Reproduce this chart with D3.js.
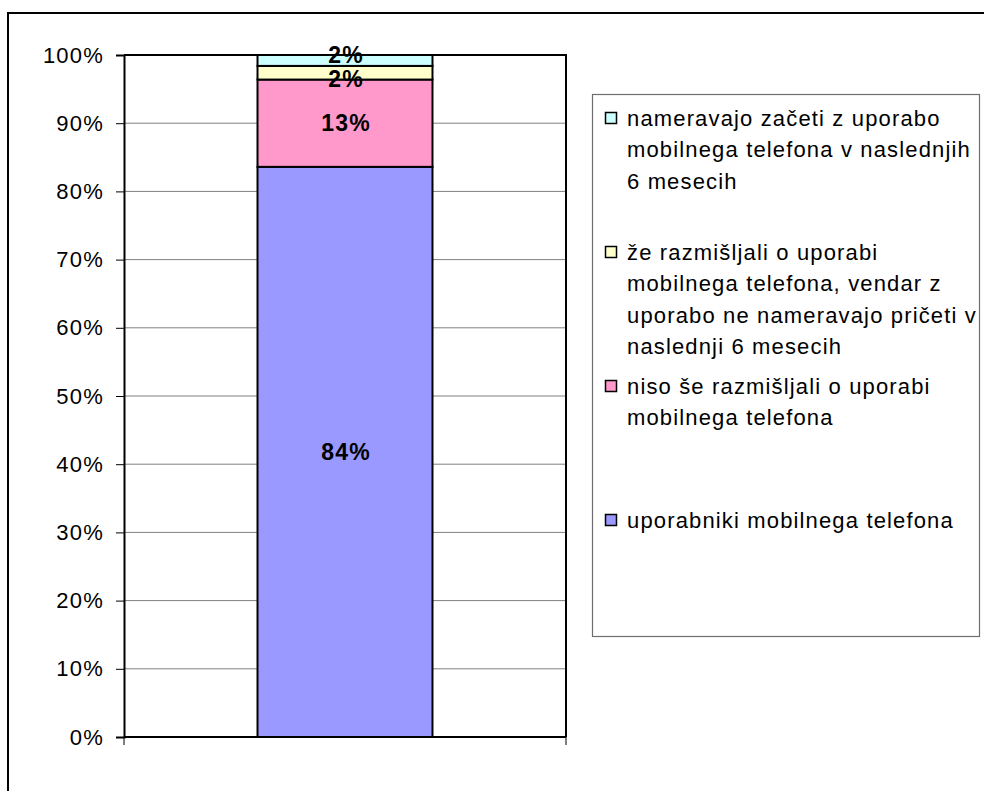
<!DOCTYPE html>
<html>
<head>
<meta charset="utf-8">
<script src="https://cdn.jsdelivr.net/npm/d3@7/dist/d3.min.js"></script>
<style>
  html, body { margin: 0; padding: 0; background: #fff; }
  svg { display: block; font-family: "Liberation Sans", Arial, sans-serif; }
</style>
</head>
<body>
<svg id="chart" width="984" height="791"></svg>
<script>
// Stacked segments, bottom to top
const seriesKeys = ["uporabniki", "niso", "ze", "nameravajo"];
const seriesValues = [83.6, 12.8, 2.0, 1.6];
const seriesColors = ["#9999FF", "#FF99CC", "#FFFFCC", "#CCFFFF"];
const category = ["Skupaj"];

// Legend entries, top to bottom, already broken into lines
const legendKeys = ["nameravajo", "ze", "niso", "uporabniki"];
const legendLines = [
  ["nameravajo začeti z uporabo", "mobilnega telefona v naslednjih", "6 mesecih"],
  ["že razmišljali o uporabi", "mobilnega telefona, vendar z", "uporabo ne nameravajo pričeti v", "naslednji 6 mesecih"],
  ["niso še razmišljali o uporabi", "mobilnega telefona"],
  ["uporabniki mobilnega telefona"]
];

const yTicks = [0, 10, 20, 30, 40, 50, 60, 70, 80, 90, 100];

const svg = d3.select("#chart");

// outer frame
svg.append("rect")
  .attr("x", 8).attr("y", 13).attr("width", 1000).attr("height", 800)
  .attr("fill", "none").attr("stroke", "#000").attr("stroke-width", 2);

const plot = { left: 124, right: 566, top: 55, bottom: 737 };

const y = d3.scaleLinear().domain([0, 100]).range([plot.bottom, plot.top]);
const x = d3.scaleBand().domain(category).range([plot.left, plot.right])
  .paddingInner(0).paddingOuter(0.763);

// gridlines
svg.append("g").selectAll("line").data(yTicks.filter(t => t > 0 && t < 100)).join("line")
  .attr("x1", plot.left).attr("x2", plot.right)
  .attr("y1", d => y(d)).attr("y2", d => y(d))
  .attr("stroke", "#808080").attr("stroke-width", 1);

// stacked bar
const rows = [Object.fromEntries(seriesKeys.map((k, i) => [k, seriesValues[i]]))];
rows[0].cat = category[0];
const stack = d3.stack().keys(seriesKeys)(rows);
const color = d3.scaleOrdinal().domain(seriesKeys).range(seriesColors);

svg.append("g").selectAll("rect").data(stack).join("rect")
  .attr("x", x(category[0]))
  .attr("width", x.bandwidth())
  .attr("y", d => y(d[0][1]))
  .attr("height", d => y(d[0][0]) - y(d[0][1]))
  .attr("fill", d => color(d.key))
  .attr("stroke", "#000").attr("stroke-width", 2);

// plot frame (top, right)
svg.append("path")
  .attr("d", `M${plot.left},${plot.top}H${plot.right}V${plot.bottom}`)
  .attr("fill", "none").attr("stroke", "#000").attr("stroke-width", 2);

// y axis
const yAxis = svg.append("g").attr("transform", `translate(${plot.left},0)`)
  .call(d3.axisLeft(y).tickValues(yTicks).tickSize(8).tickPadding(12)
    .tickFormat(d => d + "%"));
yAxis.select(".domain").attr("stroke", "#000").attr("stroke-width", 2);
yAxis.selectAll(".tick line").attr("stroke", "#000").attr("stroke-width", 1);
yAxis.selectAll(".tick text")
  .attr("font-size", 22).attr("fill", "#000")
  .style("letter-spacing", "1.2px")
  .attr("font-family", "'Liberation Sans', Arial, sans-serif");

// x axis (no labels, ticks at band edges)
const xAxisG = svg.append("g").attr("transform", `translate(0,${plot.bottom})`);
xAxisG.append("line").attr("x1", plot.left).attr("x2", plot.right)
  .attr("stroke", "#000").attr("stroke-width", 2);
xAxisG.selectAll("line.tk").data([plot.left, plot.right]).join("line")
  .attr("class", "tk")
  .attr("x1", d => d).attr("x2", d => d).attr("y1", 0).attr("y2", 8)
  .attr("stroke", "#000").attr("stroke-width", 1);

// data labels, centred in segments, nudged apart when crowded
const labels = stack.map(s => ({
  key: s.key,
  v: s[0][1] - s[0][0],
  cy: (y(s[0][0]) + y(s[0][1])) / 2
}));
const minGap = 24;
for (let iter = 0; iter < 5; iter++) {
  for (let i = 1; i < labels.length; i++) {
    const lo = labels[i - 1], hi = labels[i];
    const gap = lo.cy - hi.cy;
    if (gap < minGap) {
      const mid = (lo.cy + hi.cy) / 2;
      lo.cy = mid + minGap / 2;
      hi.cy = mid - minGap / 2;
    }
  }
}
svg.append("g").selectAll("text").data(labels).join("text")
  .attr("x", x(category[0]) + x.bandwidth() / 2 + 1)
  .attr("y", d => d.cy)
  .attr("dy", "0.35em")
  .attr("text-anchor", "middle")
  .attr("font-size", 23).attr("font-weight", "bold")
  .style("letter-spacing", "1.2px")
  .text(d => Math.round(d.v) + "%");

// legend
const legend = svg.append("g");
legend.append("rect")
  .attr("x", 592.5).attr("y", 94.5).attr("width", 387).attr("height", 542)
  .attr("fill", "#fff").attr("stroke", "#6e6e6e").attr("stroke-width", 1.2);

const slot = 134;
const lineH = 31.5;
legendKeys.forEach((k, i) => {
  const top = 118 + i * slot;
  legend.append("rect")
    .attr("x", 605.5).attr("y", top - 5.5).attr("width", 11).attr("height", 11)
    .attr("fill", color(k)).attr("stroke", "#000").attr("stroke-width", 1.5);
  const t = legend.append("text")
    .attr("x", 627).attr("y", top)
    .attr("font-size", 22)
    .style("letter-spacing", "1.15px");
  legendLines[i].forEach((ln, j) => {
    t.append("tspan").attr("x", 627).attr("y", top + j * lineH).attr("dy", "0.35em").text(ln);
  });
});
</script>
</body>
</html>
